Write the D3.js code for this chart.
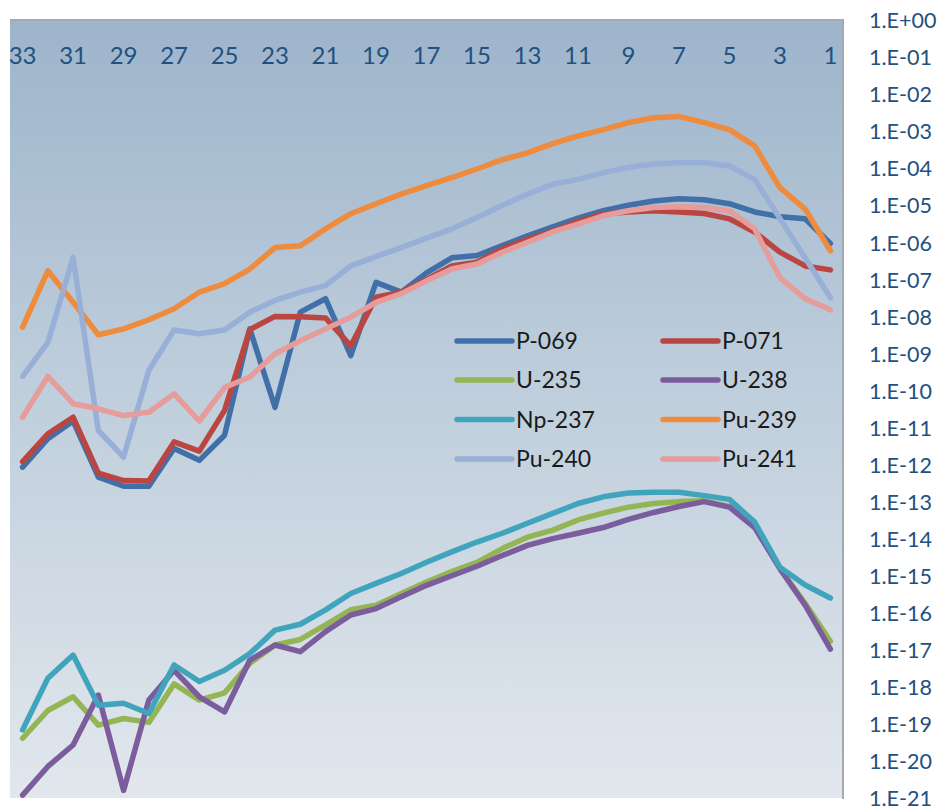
<!DOCTYPE html>
<html>
<head>
<meta charset="utf-8">
<script src="https://d3js.org/d3.v7.min.js"></script>
<style>
  html, body { margin: 0; padding: 0; background: #fff; }
  svg { display: block; font-family: Lato, "Open Sans", sans-serif; }
</style>
</head>
<body>
<svg id="chart" width="944" height="810"></svg>
<script>
// categories run from 33 down to 1 (reversed axis)
var categories = [33,32,31,30,29,28,27,26,25,24,23,22,21,20,19,18,17,16,15,14,13,12,11,10,9,8,7,6,5,4,3,2,1];
var xTickLabels = [33,31,29,27,25,23,21,19,17,15,13,11,9,7,5,3,1];
var yTickValues = [1e0,1e-1,1e-2,1e-3,1e-4,1e-5,1e-6,1e-7,1e-8,1e-9,1e-10,1e-11,1e-12,1e-13,1e-14,1e-15,1e-16,1e-17,1e-18,1e-19,1e-20,1e-21];

var seriesNames = ["P-069","P-071","U-235","U-238","Np-237","Pu-239","Pu-240","Pu-241"];
var seriesColors = ["#4170A8","#BA4541","#93B553","#7B5C9D","#40A4BD","#EE8B3D","#98AFD7","#E59C9A"];

var p069 = [8.5e-13,5.0e-12,1.5e-11,4.6e-13,2.6e-13,2.6e-13,2.7e-12,1.3e-12,6.2e-12,4.6e-9,3.5e-11,1.3e-8,3.0e-8,8.7e-10,8.3e-8,4.5e-8,1.5e-7,3.8e-7,4.4e-7,8.1e-7,1.5e-6,2.6e-6,4.5e-6,7.1e-6,1.0e-5,1.3e-5,1.5e-5,1.4e-5,1.1e-5,6.6e-6,4.9e-6,4.3e-6,9.3e-7];
var p071 = [1.2e-12,6.8e-12,1.9e-11,5.9e-13,3.7e-13,3.6e-13,4.1e-12,2.3e-12,2.9e-11,4.4e-9,1.0e-8,9.8e-9,9.1e-9,1.6e-9,3.3e-8,4.5e-8,1.0e-7,2.3e-7,2.9e-7,6.6e-7,1.2e-6,2.0e-6,3.6e-6,5.8e-6,6.6e-6,7.1e-6,6.6e-6,6.0e-6,4.3e-6,1.9e-6,5.4e-7,2.3e-7,1.8e-7];
var u235 = [4.1e-20,2.3e-19,5.4e-19,9.3e-20,1.4e-19,1.1e-19,1.2e-18,4.4e-19,6.9e-19,4.3e-18,1.35e-17,1.9e-17,4.7e-17,1.2e-16,1.6e-16,3.3e-16,6.8e-16,1.3e-15,2.3e-15,5.4e-15,1.1e-14,1.7e-14,3.2e-14,4.9e-14,7.1e-14,8.9e-14,1.0e-13,1.05e-13,7.4e-14,2.3e-14,1.55e-15,1.8e-16,1.7e-17];
var u238 = [1.2e-21,7.1e-21,2.7e-20,6.0e-19,1.6e-21,4.4e-19,2.8e-18,5.4e-19,2.1e-19,5.2e-18,1.35e-17,8.9e-18,3.1e-17,8.7e-17,1.3e-16,2.7e-16,5.5e-16,1.0e-15,1.8e-15,3.5e-15,6.6e-15,1.0e-14,1.4e-14,2.0e-14,3.3e-14,5.1e-14,7.4e-14,1.0e-13,7.1e-14,2.0e-14,1.55e-15,1.6e-16,1.05e-17];
var np237 = [6.9e-20,1.7e-18,7.2e-18,3.2e-19,3.6e-19,1.9e-19,3.9e-18,1.4e-18,2.8e-18,7.9e-18,3.4e-17,4.9e-17,1.2e-16,3.3e-16,6.2e-16,1.15e-15,2.3e-15,4.4e-15,8.1e-15,1.4e-14,2.6e-14,4.8e-14,8.9e-14,1.35e-13,1.7e-13,1.8e-13,1.8e-13,1.45e-13,1.15e-13,2.8e-14,1.7e-15,5.6e-16,2.5e-16];
var pu239 = [5.1e-9,1.7e-7,2.4e-8,3.2e-9,4.6e-9,8.1e-9,1.6e-8,4.5e-8,7.6e-8,1.9e-7,7.2e-7,8.1e-7,2.3e-6,5.9e-6,1.1e-5,2.0e-5,3.4e-5,5.6e-5,9.5e-5,1.7e-4,2.6e-4,4.6e-4,7.4e-4,1.1e-3,1.7e-3,2.3e-3,2.5e-3,1.7e-3,1.1e-3,4.0e-4,3.0e-5,7.9e-6,5.9e-7];
var pu240 = [2.4e-10,2.0e-9,3.9e-7,8.3e-12,1.6e-12,3.5e-10,4.3e-9,3.4e-9,4.3e-9,1.3e-8,2.7e-8,4.5e-8,6.8e-8,2.3e-7,4.1e-7,7.2e-7,1.3e-6,2.3e-6,4.7e-6,9.8e-6,2.0e-5,3.7e-5,5.0e-5,7.6e-5,1.05e-4,1.3e-4,1.4e-4,1.4e-4,1.15e-4,5.0e-5,4.4e-6,3.8e-7,3.2e-8];
var pu241 = [1.9e-11,2.4e-10,4.4e-11,3.2e-11,2.1e-11,2.6e-11,8.1e-11,1.5e-11,1.2e-10,2.3e-10,9.8e-10,2.2e-9,4.6e-9,9.5e-9,2.4e-8,4.1e-8,9.1e-8,1.9e-7,2.6e-7,5.4e-7,1.0e-6,1.9e-6,3.1e-6,5.2e-6,7.1e-6,8.7e-6,9.1e-6,8.7e-6,7.1e-6,2.3e-6,1.1e-7,3.0e-8,1.5e-8];

var seriesValues = [p069, p071, u235, u238, np237, pu239, pu240, pu241];

var plot = {left: 10, top: 20, right: 843, bottom: 798};

var svg = d3.select("#chart");

function init() {
  drawBackground();

  var x = d3.scaleBand().domain(categories).range([plot.left, plot.right]);
  var y = d3.scaleLog().domain([1e-21, 1]).range([plot.bottom, plot.top]);

  drawAxes(x, y);
  drawLines(x, y);
  drawLegend();
}

function drawBackground() {
  var grad = svg.append("defs").append("linearGradient")
    .attr("id", "bg").attr("x1", 0).attr("y1", 0).attr("x2", 0).attr("y2", 1);
  grad.append("stop").attr("offset", "0%").attr("stop-color", "#9DB4CB");
  grad.append("stop").attr("offset", "45%").attr("stop-color", "#BDCDDB");
  grad.append("stop").attr("offset", "100%").attr("stop-color", "#E2E7ED");

  svg.append("rect")
    .attr("x", plot.left).attr("y", plot.top)
    .attr("width", plot.right - plot.left).attr("height", plot.bottom - plot.top)
    .style("fill", "url(#bg)");

  // top and right frame
  svg.append("path")
    .attr("d", "M" + plot.left + "," + plot.top + "H" + plot.right + "V" + (plot.bottom + 1))
    .style("fill", "none").style("stroke", "#A2A9B0").style("stroke-width", 2);
}

function expLabel(d) {
  var e = Math.round(Math.log10(d));
  var s = e >= 0 ? "+" : "-";
  var a = Math.abs(e);
  return "1.E" + s + (a < 10 ? "0" + a : a);
}

function drawAxes(x, y) {
  var xAxis = svg.append("g")
    .attr("transform", "translate(0,64)")
    .call(d3.axisTop(x).tickValues(xTickLabels).tickSize(0).tickPadding(0));
  xAxis.select(".domain").remove();
  xAxis.selectAll("text")
    .style("font-family", "Lato, sans-serif")
    .style("font-size", "24px")
    .style("fill", "#22507F");

  var yAxis = svg.append("g")
    .attr("transform", "translate(866,0)")
    .call(d3.axisRight(y).tickValues(yTickValues).tickFormat(expLabel).tickSize(0).tickPadding(3));
  yAxis.select(".domain").remove();
  yAxis.selectAll("text")
    .attr("dy", "0.36em")
    .style("font-family", "Lato, sans-serif")
    .style("font-size", "21.5px")
    .style("fill", "#22507F");
}

function drawLines(x, y) {
  var half = x.bandwidth() / 2;
  var line = d3.line()
    .x(function(d, i) { return x(categories[i]) + half; })
    .y(function(d) { return y(d); });

  svg.append("g").selectAll("path")
    .data(seriesValues)
    .enter().append("path")
    .attr("d", line)
    .style("fill", "none")
    .style("stroke", function(d, i) { return seriesColors[i]; })
    .style("stroke-width", 5.5)
    .style("stroke-linejoin", "round")
    .style("stroke-linecap", "round");
}

function drawLegend() {
  var colX = [457, 663];
  var rowY = [341, 380, 419.5, 459];
  var g = svg.append("g");

  var items = g.selectAll("g")
    .data(seriesNames)
    .enter().append("g")
    .attr("transform", function(d, i) {
      return "translate(" + colX[i % 2] + "," + rowY[Math.floor(i / 2)] + ")";
    });

  items.append("line")
    .attr("x1", 0).attr("x2", 55).attr("y1", 0).attr("y2", 0)
    .style("stroke", function(d, i) { return seriesColors[i]; })
    .style("stroke-width", 5.5)
    .style("stroke-linecap", "round");

  items.append("text")
    .attr("x", 59).attr("dy", "0.36em")
    .style("font-family", "Lato, sans-serif")
    .style("font-size", "23px")
    .style("fill", "#1A1A1A")
    .text(function(d) { return d; });
}

init();
</script>
</body>
</html>
